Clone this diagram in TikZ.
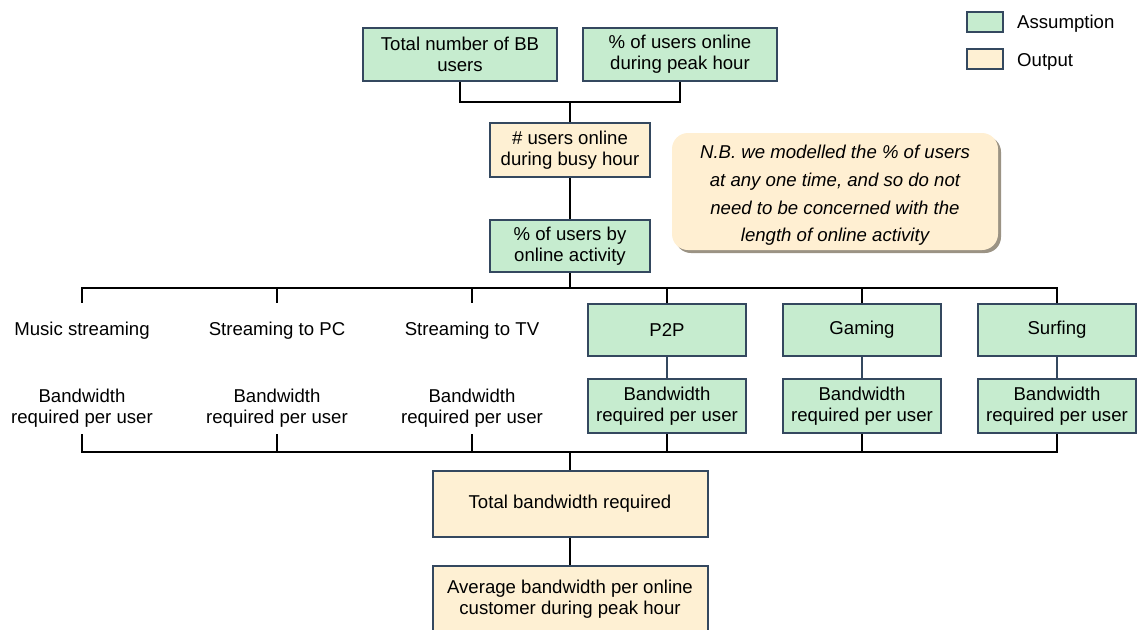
\documentclass[tikz,border=0pt]{standalone}
\usepackage{fontspec}
\setmainfont{Liberation Sans}
\usetikzlibrary{shadows}
\definecolor{asmfill}{HTML}{C6ECCF}
\definecolor{outfill}{HTML}{FEF0D3}
\definecolor{boxline}{HTML}{34485F}
\definecolor{notefill}{HTML}{FFEFD2}
\definecolor{noteshade}{HTML}{9B9384}
\tikzset{
  every node/.style={font=\fontsize{18.6}{21.3}\selectfont, align=center, inner sep=0pt},
  basebox/.style={draw=boxline, line width=2pt, minimum width=#1},
  asm/.style={basebox=#1, fill=asmfill},
  outp/.style={basebox=#1, fill=outfill},
  plain/.style={minimum width=150},
  link/.style={line width=2.2pt, black},
  thinlink/.style={line width=1.4pt, boxline},
}
\begin{document}
\begin{tikzpicture}[x=1pt,y=-1pt]
\useasboundingbox (0,0) rectangle (1142,629);

% legend
\node[asm=36, minimum height=20] (legA) at (985,21.5) {};
\node[anchor=west] (legAt) at (1017,23.5) {Assumption};
\node[outp=36, minimum height=20] (legO) at (985,58.5) {};
\node[anchor=west] (legOt) at (1017,62) {Output};

% top inputs and busy-hour users
\node[asm=194, minimum height=53] (tot) at (460,54.5) {Total number of BB\\users};
\node[asm=194, minimum height=53] (pct) at (680,54.5) {\% of users online\\during peak hour};
\node[outp=160, minimum height=54] (busy) at (570,150) {\# users online\\during busy hour};
\node[asm=160, minimum height=52] (act) at (570,246) {\% of users by\\online activity};

% side note: rounded panel with shadow, text set on top
\node[fill=notefill, rounded corners=16pt, minimum width=326, minimum height=117,
      drop shadow={shadow xshift=3pt, shadow yshift=-3pt, fill=noteshade, opacity=1}]
  (note) at (835,191.5) {};
\node[font=\fontsize{18.6}{27.7}\selectfont\itshape] (notetext) at (835,195.5)
  {N.B. we modelled the \% of users\\at any one time, and so do not\\need to be concerned with the\\length of online activity};

% activity categories
\node[plain, minimum height=56] (music) at (82,331) {Music streaming};
\node[plain, minimum height=56] (spc) at (277,331) {Streaming to PC};
\node[plain, minimum height=56] (stv) at (472,331) {Streaming to TV};
\node[asm=158, minimum height=52] (p2p) at (667,330) {P2P};
\node[asm=158, minimum height=52] (game) at (862,330) {Gaming};
\node[asm=158, minimum height=52] (surf) at (1057,330) {Surfing};

% bandwidth per user
\node[plain, minimum height=52] (bwa) at (82,408) {Bandwidth\\required per user};
\node[plain, minimum height=52] (bwb) at (277,408) {Bandwidth\\required per user};
\node[plain, minimum height=52] (bwc) at (472,408) {Bandwidth\\required per user};
\node[asm=158, minimum height=54] (bwd) at (667,406) {Bandwidth\\required per user};
\node[asm=158, minimum height=54] (bwe) at (862,406) {Bandwidth\\required per user};
\node[asm=158, minimum height=54] (bwf) at (1057,406) {Bandwidth\\required per user};

% totals
\node[outp=275, minimum height=66] (total) at (570,504) {Total bandwidth required};
\node[outp=275, minimum height=66] (avg) at (570,599) {Average bandwidth per online\\customer during peak hour};

% junction points
\coordinate (jtop) at (570,102);
\coordinate (jmid) at (570,288);
\coordinate (jbot) at (570,452);

% connectors: inputs to busy-hour users
\draw[link] (tot.south) |- (jtop) -| (pct.south);
\draw[link] (jtop) -- (busy.north);
\draw[link] (busy.south) -- (act.north);

% split by activity
\draw[link] (act.south) -- (jmid);
\draw[link] (music.north) |- (jmid);
\draw[link] (surf.north) |- (jmid);
\foreach \n in {spc,stv,p2p,game} \draw[link] (\n.north) -- (\n.north |- jmid);

% activity to bandwidth
\foreach \a/\b in {p2p/bwd,game/bwe,surf/bwf} \draw[thinlink] (\a.south) -- (\b.north);

% combine bandwidth
\draw[link] (bwa.south) |- (jbot);
\draw[link] (bwf.south) |- (jbot);
\foreach \n in {bwb,bwc,bwd,bwe} \draw[link] (\n.south) -- (\n.south |- jbot);
\draw[link] (jbot) -- (total.north);
\draw[link] (total.south) -- (avg.north);
\end{tikzpicture}
\end{document}
